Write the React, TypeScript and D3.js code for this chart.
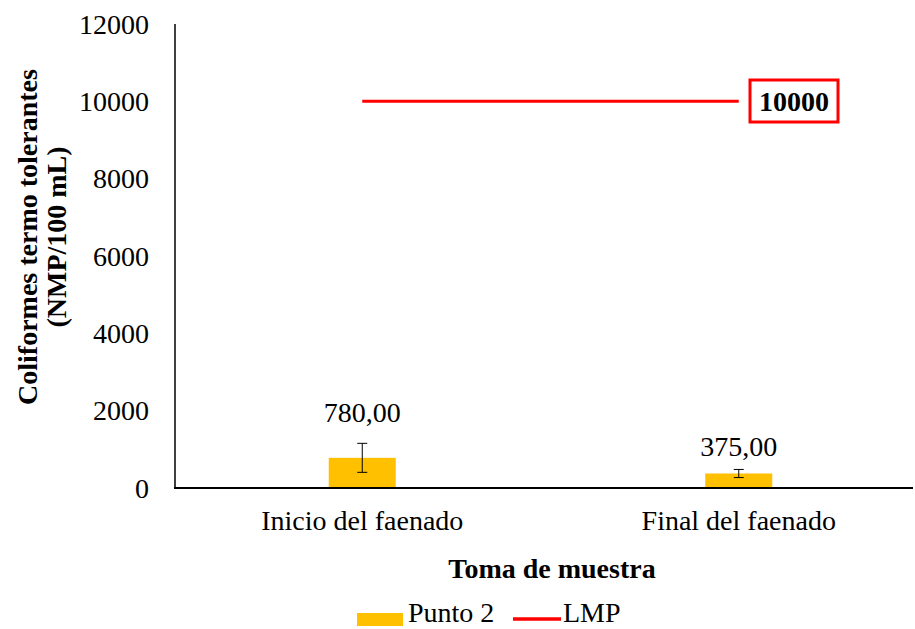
import React from "react";
import * as d3 from "d3";

const categories = ["Inicio del faenado", "Final del faenado"];
const punto2 = [780, 375];
const punto2Err = [375, 105];
const lmp = [10000, 10000];
const yTicks = [0, 2000, 4000, 6000, 8000, 10000, 12000];
const dataLabels = ["780,00", "375,00"];
const lmpLabel = "10000";

const W = 915;
const H = 629;
const FONT = "'Liberation Serif', 'Times New Roman', serif";
const FS = 28;
const labelGap = [36, 18];

export default function App() {
  const x = d3.scaleBand<string>().domain(categories).range([174, 927]).paddingInner(0).paddingOuter(0);
  const y = d3.scaleLinear().domain([0, 12000]).range([488, 24]);
  const bw = 67;
  const cx = (c: string) => (x(c) as number) + x.bandwidth() / 2;
  const line = d3
    .line<number>()
    .x((_, i) => cx(categories[i]))
    .y((d) => y(d));
  return (
    <svg width={W} height={H} style={{ display: "block", position: "absolute", left: 0, top: 0 }} fontFamily={FONT}>
      <rect width={W} height={H} fill="#fff" />
      {yTicks.map((t) => (
        <text key={t} x={149} y={y(t)} dy="0.35em" textAnchor="end" fontSize={FS} fill="#000">
          {t}
        </text>
      ))}
      {categories.map((c, i) => (
        <g key={c}>
          <rect x={cx(c) - bw / 2} y={y(punto2[i])} width={bw} height={y(0) - y(punto2[i])} fill="#FFC000" />
          <line x1={cx(c)} x2={cx(c)} y1={y(punto2[i] + punto2Err[i])} y2={y(punto2[i] - punto2Err[i])} stroke="#000" strokeWidth={1} />
          <line x1={cx(c) - 5} x2={cx(c) + 5} y1={y(punto2[i] + punto2Err[i])} y2={y(punto2[i] + punto2Err[i])} stroke="#000" strokeWidth={1} />
          <line x1={cx(c) - 5} x2={cx(c) + 5} y1={y(punto2[i] - punto2Err[i])} y2={y(punto2[i] - punto2Err[i])} stroke="#000" strokeWidth={1} />
          <text x={cx(c)} y={y(punto2[i]) - labelGap[i]} textAnchor="middle" fontSize={FS} fill="#000">
            {dataLabels[i]}
          </text>
          <text x={cx(c)} y={530} textAnchor="middle" fontSize={FS} fill="#000">
            {c}
          </text>
        </g>
      ))}
      <path d={line(lmp) || ""} fill="none" stroke="#FF0000" strokeWidth={3} />
      <rect x={750} y={80} width={88} height={42} fill="#fff" stroke="#FF0000" strokeWidth={3} />
      <text x={794} y={y(lmp[1])} dy="0.35em" textAnchor="middle" fontSize={FS} fontWeight="bold" fill="#000">
        {lmpLabel}
      </text>
      <line x1={175} x2={175} y1={24} y2={488} stroke="#000" strokeWidth={1.5} />
      <line x1={174} x2={913} y1={488} y2={488} stroke="#000" strokeWidth={2} />
      <text x={552} y={578} textAnchor="middle" fontSize={FS} fontWeight="bold" fill="#000">
        Toma de muestra
      </text>
      <g transform="translate(37,237) rotate(-90)">
        <text x={0} y={0} textAnchor="middle" fontSize={FS} fontWeight="bold" fill="#000">
          Coliformes termo tolerantes
        </text>
        <text x={0} y={29} textAnchor="middle" fontSize={FS} fontWeight="bold" fill="#000">
          (NMP/100 mL)
        </text>
      </g>
      <rect x={357} y={613} width={46} height={13} fill="#FFC000" />
      <text x={408} y={622} fontSize={FS} fill="#000">Punto 2</text>
      <line x1={513} x2={561} y1={619} y2={619} stroke="#FF0000" strokeWidth={3.5} />
      <text x={563} y={622} fontSize={FS} fill="#000">LMP</text>
    </svg>
  );
}
